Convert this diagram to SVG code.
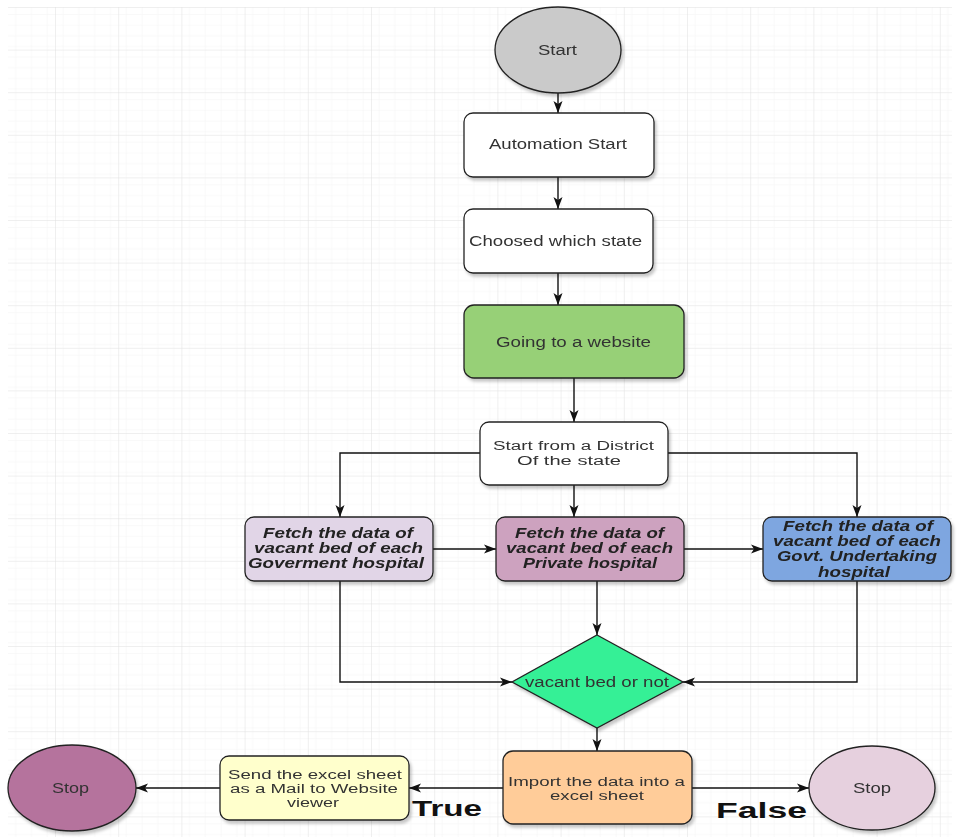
<svg xmlns="http://www.w3.org/2000/svg" width="957" height="840" viewBox="0 0 957 840">
<style>
.t{font-family:"Liberation Sans",Arial,sans-serif;font-size:14px;fill:#333}
.s{font-size:12.5px}
.b{font-family:"Liberation Sans",Arial,sans-serif;font-size:14px;fill:#222;font-style:italic;font-weight:bold}
.lbl{font-family:"Liberation Sans",Arial,sans-serif;font-size:22px;fill:#111;font-weight:bold}
.n{stroke:#222;stroke-width:1.3}
.c{fill:none;stroke:#111;stroke-width:1.4;marker-end:url(#arr)}
</style>
<defs>
<pattern id="minor" patternUnits="userSpaceOnUse" x="55" y="7" width="15.8" height="10.65">
<path d="M0 0V10.65M0 0H15.8" fill="none" stroke="#f4f4f4" stroke-width="1"/>
</pattern>
<pattern id="major" patternUnits="userSpaceOnUse" x="55" y="7" width="63.2" height="42.6">
<rect width="63.2" height="42.6" fill="url(#minor)"/>
<path d="M0 0V42.6M0 0H63.2" fill="none" stroke="#e0e0e0" stroke-width="1"/>
</pattern>
<marker id="arr" markerUnits="userSpaceOnUse" markerWidth="13" markerHeight="12" refX="12" refY="6" orient="auto">
<path d="M0 1.5L12 6L0 10.5L3 6Z" fill="#111"/>
</marker>
<filter id="sh" x="-10%" y="-10%" width="130%" height="140%">
<feDropShadow dx="2" dy="3" stdDeviation="1.5" flood-color="#000" flood-opacity="0.22"/>
</filter>
</defs>
<rect width="957" height="840" fill="#fff"/>
<rect x="8" y="7" width="944" height="830" fill="url(#major)"/>

<g id="connectors">
<path class="c" d="M558 92V113"/>
<path class="c" d="M558 177V209"/>
<path class="c" d="M558 273V305"/>
<path class="c" d="M574 378V422"/>
<path class="c" d="M480 453H340V517"/>
<path class="c" d="M574 485V517"/>
<path class="c" d="M668 453H857V517"/>
<path class="c" d="M433 549H496"/>
<path class="c" d="M684 549H763"/>
<path class="c" d="M340 581V682H512"/>
<path class="c" d="M597 581V635"/>
<path class="c" d="M857 581V682H683"/>
<path class="c" d="M597 728V751"/>
<path class="c" d="M503 788H409"/>
<path class="c" d="M220 788H136"/>
<path class="c" d="M692 788H809"/>
</g>

<g id="start" filter="url(#sh)">
<ellipse class="n" cx="558" cy="50" rx="63" ry="43" fill="#cacaca"/>
<text class="t" x="538" y="55" textLength="39" lengthAdjust="spacingAndGlyphs">Start</text>
</g>
<g id="automation-start" filter="url(#sh)">
<rect class="n" x="464" y="113" width="190" height="64" rx="9" fill="#fff"/>
<text class="t" x="489" y="149" textLength="138" lengthAdjust="spacingAndGlyphs">Automation Start</text>
</g>
<g id="choose-state" filter="url(#sh)">
<rect class="n" x="464" y="209" width="189" height="64" rx="9" fill="#fff"/>
<text class="t" x="469" y="246" textLength="173" lengthAdjust="spacingAndGlyphs">Choosed which state</text>
</g>
<g id="website" filter="url(#sh)">
<rect class="n" x="464" y="305" width="220" height="73" rx="10" fill="#97d077"/>
<text class="t" x="496" y="347" textLength="155" lengthAdjust="spacingAndGlyphs">Going to a website</text>
</g>
<g id="district" filter="url(#sh)">
<rect class="n" x="480" y="422" width="188" height="63" rx="9" fill="#fff"/>
<text class="t s" x="493" y="450" textLength="161" lengthAdjust="spacingAndGlyphs">Start from a District</text>
<text class="t s" x="517" y="465" textLength="104" lengthAdjust="spacingAndGlyphs">Of the state</text>
</g>
<g id="gov" filter="url(#sh)">
<rect class="n" x="245" y="517" width="188" height="64" rx="9" fill="#e1d5e7"/>
<text class="b" x="263" y="538" textLength="150" lengthAdjust="spacingAndGlyphs">Fetch the data of</text>
<text class="b" x="254" y="553" textLength="169" lengthAdjust="spacingAndGlyphs">vacant bed of each</text>
<text class="b" x="248" y="568" textLength="176" lengthAdjust="spacingAndGlyphs">Goverment hospital</text>
</g>
<g id="private" filter="url(#sh)">
<rect class="n" x="496" y="517" width="188" height="64" rx="9" fill="#cda2bf"/>
<text class="b" x="515" y="538" textLength="149" lengthAdjust="spacingAndGlyphs">Fetch the data of</text>
<text class="b" x="506" y="553" textLength="167" lengthAdjust="spacingAndGlyphs">vacant bed of each</text>
<text class="b" x="523" y="568" textLength="134" lengthAdjust="spacingAndGlyphs">Private hospital</text>
</g>
<g id="undertaking" filter="url(#sh)">
<rect class="n" x="763" y="517" width="188" height="64" rx="9" fill="#7ea6e0"/>
<text class="b" x="783" y="531" textLength="150" lengthAdjust="spacingAndGlyphs">Fetch the data of</text>
<text class="b" x="773" y="546" textLength="168" lengthAdjust="spacingAndGlyphs">vacant bed of each</text>
<text class="b" x="777" y="561" textLength="160" lengthAdjust="spacingAndGlyphs">Govt. Undertaking</text>
<text class="b" x="818" y="577" textLength="72" lengthAdjust="spacingAndGlyphs">hospital</text>
</g>
<g id="decision" filter="url(#sh)">
<path class="n" d="M597 635L683 682L597 728L512 682Z" fill="#36f096"/>
<text class="t" x="525" y="687" textLength="144" lengthAdjust="spacingAndGlyphs">vacant bed or not</text>
</g>
<g id="import" filter="url(#sh)">
<rect class="n" x="503" y="751" width="189" height="73" rx="10" fill="#ffcc99"/>
<text class="t s" x="508" y="786" textLength="177" lengthAdjust="spacingAndGlyphs">Import the data into a</text>
<text class="t s" x="550" y="800" textLength="94" lengthAdjust="spacingAndGlyphs">excel sheet</text>
</g>
<g id="send" filter="url(#sh)">
<rect class="n" x="220" y="756" width="189" height="64" rx="9" fill="#ffffcc"/>
<text class="t s" x="228" y="779" textLength="174" lengthAdjust="spacingAndGlyphs">Send the excel sheet</text>
<text class="t s" x="230" y="793" textLength="168" lengthAdjust="spacingAndGlyphs">as a Mail to Website</text>
<text class="t s" x="287" y="807" textLength="52" lengthAdjust="spacingAndGlyphs">viewer</text>
</g>
<g id="stop-left" filter="url(#sh)">
<ellipse class="n" cx="72" cy="788" rx="64" ry="43" fill="#b5739d"/>
<text class="t" x="52" y="793" textLength="37" lengthAdjust="spacingAndGlyphs">Stop</text>
</g>
<g id="stop-right" filter="url(#sh)">
<ellipse class="n" cx="872" cy="788" rx="63" ry="42" fill="#e6d0de"/>
<text class="t" x="853" y="793" textLength="38" lengthAdjust="spacingAndGlyphs">Stop</text>
</g>
<g id="labels">
<text class="lbl" x="412" y="816" textLength="70" lengthAdjust="spacingAndGlyphs">True</text>
<text class="lbl" x="716" y="818" textLength="91" lengthAdjust="spacingAndGlyphs">False</text>
</g>
</svg>
